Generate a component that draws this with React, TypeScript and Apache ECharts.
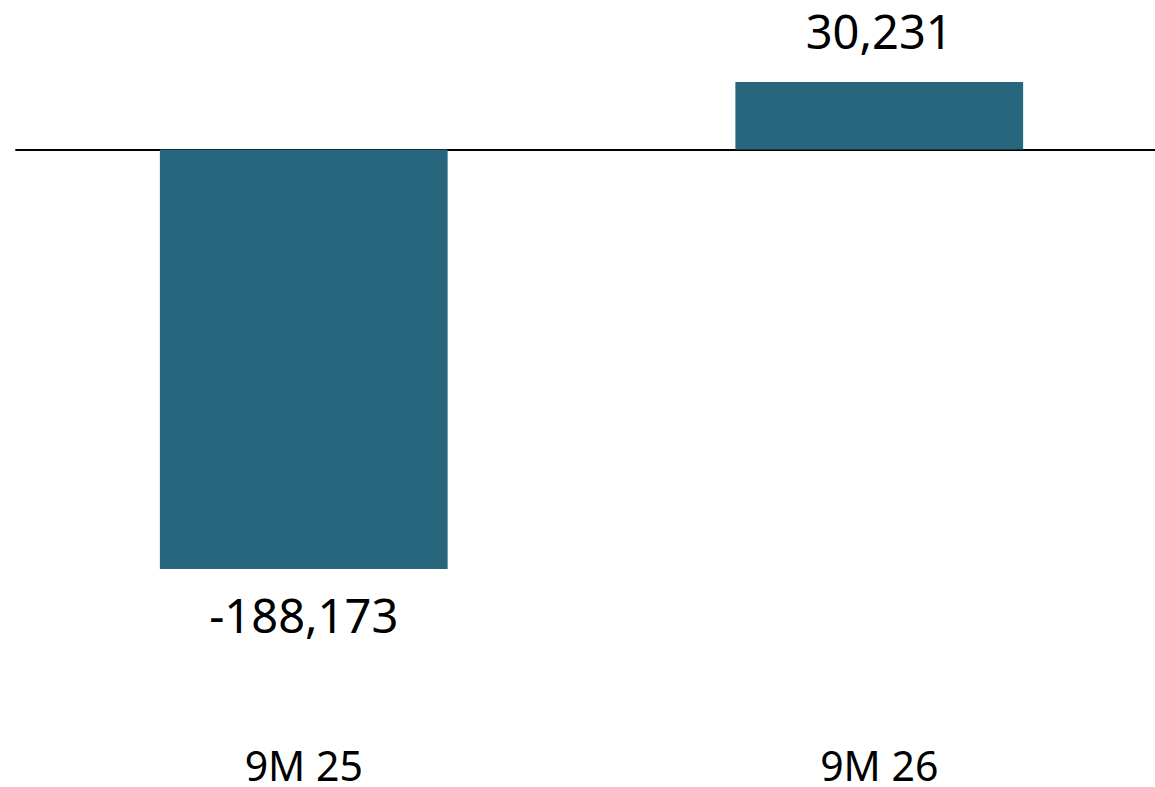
import React, { useEffect, useRef } from "react";
import * as echarts from "echarts";

const categories = ["9M 25", "9M 26"];
const values = [-188173, 30231];
const yMin = -250000;
const yMax = 60000;

const fmt = (v: number) => (v < 0 ? "-" : "") + Math.abs(v).toLocaleString("en-US");

export default function App() {
  const ref = useRef<HTMLDivElement>(null);
  useEffect(() => {
    const chart = echarts.init(ref.current!, null, { renderer: "svg" });
    const font = "'Noto Sans', sans-serif";
    chart.setOption({
      animation: false,
      grid: { left: 16, width: 1151, top: 15.75, bottom: 80.25, containLabel: false },
      xAxis: [
        {
          type: "category",
          data: categories,
          axisLine: { onZero: true, lineStyle: { color: "#000", width: 1.8 } },
          axisTick: { show: false },
          axisLabel: { show: false },
        },
        {
          type: "category",
          data: categories,
          position: "bottom",
          axisLine: { show: false },
          axisTick: { show: false },
          axisLabel: {
            show: true,
            margin: 38,
            fontSize: 41,
            lineHeight: 40,
            color: "#000",
            fontFamily: font,
          },
        },
      ],
      yAxis: {
        type: "value",
        min: yMin,
        max: yMax,
        show: false,
        splitLine: { show: false },
      },
      series: [
        {
          type: "bar",
          data: values.map((v) =>
            v < 0
              ? { value: v, label: { position: "bottom", distance: 29 } }
              : { value: v, label: { position: "top", distance: 34 } }
          ),
          barWidth: "50%",
          itemStyle: { color: "#28667E" },
          label: {
            show: true,
            fontSize: 47,
            lineHeight: 34,
            color: "#000",
            fontFamily: font,
            formatter: (p: any) => fmt(p.value),
          },
        },
      ],
    });
    return () => chart.dispose();
  }, []);
  return (
    <div
      style={{ position: "absolute", left: 0, top: 0, width: 1155, height: 787, overflow: "hidden", background: "#fff" }}
    >
      <div ref={ref} style={{ width: 1175, height: 787 }} />
    </div>
  );
}
